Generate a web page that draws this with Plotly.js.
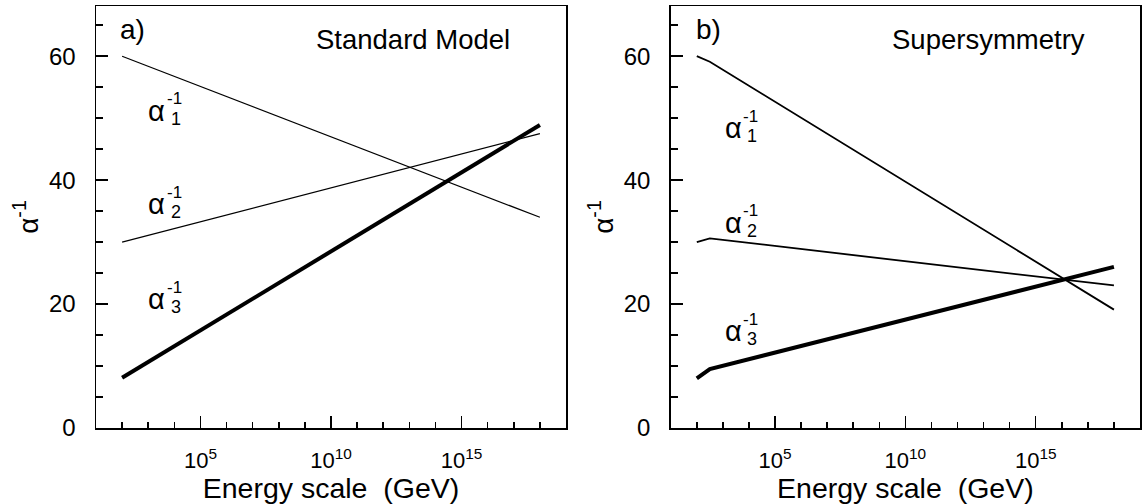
<!DOCTYPE html>
<html>
<head>
<meta charset="utf-8">
<script src="https://cdn.plot.ly/plotly-3.0.1.min.js"></script>
<style>html,body{margin:0;padding:0;background:#fff;}</style>
</head>
<body>
<div id="chart" style="width:1144px;height:504px;"></div>
<script>
// ---- data (energy in GeV, inverse couplings) ----
const energySM = [1e2, 1e18];
const smAlpha1 = [60, 34];
const smAlpha2 = [30, 47.5];
const smAlpha3 = [8.1, 48.9];

const energySUSY = [1e2, 316, 1e18];
const susyAlpha1 = [60, 59.1, 19.1];
const susyAlpha2 = [30, 30.6, 23.0];
const susyAlpha3 = [8.0, 9.5, 26.0];

const xMajorTicks = [1e5, 1e10, 1e15];
const xMajorLabels = ['10<sup>5</sup>', '10<sup>10</sup>', '10<sup>15</sup>'];
const xMinorTicks = [1e2,1e3,1e4,1e6,1e7,1e8,1e9,1e11,1e12,1e13,1e14,1e16,1e17,1e18];
const yMajorTicks = [0, 20, 40, 60];
const yTickLabels = ['0', '20', '40', '60'];

const panelLetters = ['a)', 'b)'];
const panelTitles = ['Standard Model', 'Supersymmetry'];
const couplingSubs = ['1', '2', '3'];
const xTitle = 'Energy scale&nbsp; (GeV)';
const yTitle = 'α<sup>-1</sup>';

// ---- styling ----
const FONT = 'Liberation Sans, Arial, Helvetica, sans-serif';
const thin = {color: '#000', width: 1.2};
const thinS = {color: '#000', width: 1.8};
const thick = {color: '#000', width: 4};

function line(x, y, ln, xa, ya) {
  return {x: x, y: y, type: 'scatter', mode: 'lines', line: ln, xaxis: xa, yaxis: ya,
          hoverinfo: 'skip', showlegend: false};
}

const traces = [
  line(energySM, smAlpha1, thin, 'x', 'y'),
  line(energySM, smAlpha2, thin, 'x', 'y'),
  line(energySM, smAlpha3, thick, 'x', 'y'),
  line(energySUSY, susyAlpha1, thinS, 'x2', 'y2'),
  line(energySUSY, susyAlpha2, thinS, 'x2', 'y2'),
  line(energySUSY, susyAlpha3, thick, 'x2', 'y2')
];

function xAxis(domain, anchor) {
  return {
    domain: domain, anchor: anchor, type: 'log', range: [1, 19],
    tickmode: 'array', tickvals: xMajorTicks, ticktext: xMajorLabels,
    ticks: 'inside', ticklen: 12, tickwidth: 1.5, tickcolor: '#000',
    minor: {tickmode: 'array', tickvals: xMinorTicks, ticks: 'inside', ticklen: 6, tickwidth: 1.5, tickcolor: '#000', showgrid: false},
    tickfont: {family: FONT, size: 22, color: '#000'},
    ticklabelstandoff: 12,
    showline: true, mirror: true, linecolor: '#000', linewidth: 1.5,
    showgrid: false, zeroline: false,
    title: {text: xTitle, font: {family: FONT, size: 28.5, color: '#000'}, standoff: 2},
    automargin: false
  };
}
function yAxis(anchor) {
  return {
    domain: [0, 1], anchor: anchor, range: [0, 68.1],
    tickmode: 'array', tickvals: yMajorTicks, ticktext: yTickLabels,
    ticks: 'inside', ticklen: 12, tickwidth: 1.5, tickcolor: '#000',
    minor: {dtick: 5, tick0: 0, ticks: 'inside', ticklen: 7, tickwidth: 1.5, tickcolor: '#000', showgrid: false},
    tickfont: {family: FONT, size: 24, color: '#000'},
    ticklabelstandoff: 14,
    showline: true, mirror: true, linecolor: '#000', linewidth: 1.5,
    showgrid: false, zeroline: false,
    title: {text: yTitle, font: {family: FONT, size: 28, color: '#000'}, standoff: 2},
    automargin: false
  };
}

// label anchor positions (log10 E, value)
const labelPos = {
  x: [[3.33, 3.33, 3.33], [3.39, 3.39, 3.39]],
  y: [[51.2, 36.1, 20.8], [48.4, 33.1, 15.6]]
};
const annotations = [];
const axPairs = [['x', 'y'], ['x2', 'y2']];
for (let p = 0; p < 2; p++) {
  const [xr, yr] = axPairs[p];
  annotations.push({xref: xr + ' domain', yref: yr + ' domain', x: p === 0 ? 0.077 : 0.08, y: 0.945,
    text: panelLetters[p], showarrow: false, xanchor: 'center', yanchor: 'middle',
    font: {family: FONT, size: 28, color: '#000'}});
  annotations.push({xref: xr + ' domain', yref: yr + ' domain', x: p === 0 ? 0.674 : 0.677, y: 0.92,
    text: panelTitles[p], showarrow: false, xanchor: 'center', yanchor: 'middle',
    font: {family: FONT, size: 27.5, color: '#000'}});
  for (let i = 0; i < 3; i++) {
    const x = labelPos.x[p][i], y = labelPos.y[p][i];
    annotations.push({xref: xr, yref: yr, x: x, y: y, text: 'α', showarrow: false,
      xanchor: 'center', yanchor: 'middle', font: {family: FONT, size: 29, color: '#000'}});
    annotations.push({xref: xr, yref: yr, x: x, y: y, text: '-1', showarrow: false,
      xanchor: 'center', yanchor: 'middle', xshift: 17.5, yshift: 12,
      font: {family: FONT, size: 17, color: '#000'}});
    annotations.push({xref: xr, yref: yr, x: x, y: y, text: couplingSubs[i], showarrow: false,
      xanchor: 'center', yanchor: 'middle', xshift: 19, yshift: -8,
      font: {family: FONT, size: 18, color: '#000'}});
  }
}

const layout = {
  width: 1144, height: 504,
  margin: {l: 96, r: 4, t: 6, b: 76},
  paper_bgcolor: '#fff', plot_bgcolor: '#fff',
  showlegend: false,
  xaxis: xAxis([0, 0.4502], 'y'),
  yaxis: yAxis('x'),
  xaxis2: xAxis([0.5505, 1], 'y2'),
  yaxis2: yAxis('x2'),
  annotations: annotations
};

Plotly.newPlot('chart', traces, layout, {staticPlot: true, displayModeBar: false});
</script>
</body>
</html>
